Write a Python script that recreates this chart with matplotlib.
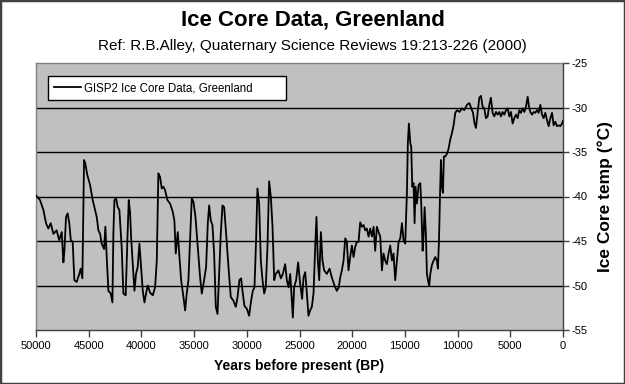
import matplotlib
matplotlib.use("Agg")
import matplotlib.pyplot as plt
from matplotlib.patches import Rectangle

plt.rcParams['font.family'] = ['Liberation Sans', 'DejaVu Sans']

title = "Ice Core Data, Greenland"
subtitle = "Ref: R.B.Alley, Quaternary Science Reviews 19:213-226 (2000)"
series_name = "GISP2 Ice Core Data, Greenland"
x_label = "Years before present (BP)"
y_label = "Ice Core temp (\u00b0C)"
x_ticks = [50000, 45000, 40000, 35000, 30000, 25000, 20000, 15000, 10000, 5000, 0]
y_ticks = [-55, -50, -45, -40, -35, -30, -25]

years = [
    50000, 49620, 49300, 49050, 48830, 48600, 48350, 48040, 47800, 47560,
    47400, 47300, 47150, 47000, 46840, 46700, 46520, 46360, 46140, 45890,
    45760, 45600, 45440, 45320, 45130, 44870, 44620, 44400, 44240, 44080,
    43920, 43770, 43540, 43420, 43290, 43130, 42910, 42750, 42660, 42560,
    42400, 42250, 42090, 41870, 41710, 41490, 41330, 41200, 41080, 40980,
    40820, 40660, 40510, 40350, 40190, 40030, 39870, 39710, 39560, 39400,
    39180, 38920, 38700, 38540, 38390, 38230, 38070, 37910, 37750, 37530,
    37280, 37030, 36870, 36740, 36550, 36390, 36230, 36010, 35850, 35700,
    35540, 35380, 35220, 35060, 34870, 34650, 34430, 34270, 34050, 33860,
    33700, 33570, 33420, 33260, 33100, 32940, 32780, 32630, 32470, 32310,
    32150, 31960, 31740, 31520, 31270, 31040, 30880, 30700, 30540, 30380,
    30220, 30000, 29780, 29590, 29430, 29270, 29110, 28990, 28830, 28670,
    28510, 28350, 28200, 28040, 27880, 27720, 27560, 27400, 27250, 27000,
    26770, 26580, 26360, 26200, 26040, 25880, 25630, 25510, 25320, 25130,
    24940, 24750, 24620, 24460, 24300, 24150, 23990, 23830, 23670, 23510,
    23390, 23260, 23130, 22970, 22820, 22660, 22410, 22150, 21930, 21680,
    21460, 21270, 21140, 20980, 20820, 20660, 20510, 20350, 20190, 20030,
    19870, 19720, 19560, 19400, 19240, 19080, 18920, 18770, 18610, 18450,
    18290, 18130, 17970, 17820, 17660, 17500, 17340, 17180, 17030, 16870,
    16710, 16550, 16390, 16230, 16080, 15920, 15760, 15600, 15440, 15280,
    15130, 14970, 14810, 14720, 14620, 14490, 14400, 14300, 14180, 14080,
    13990, 13860, 13700, 13540, 13450, 13320, 13230, 13130, 13010, 12910,
    12780, 12690, 12590, 12440, 12280, 12120, 11960, 11870, 11770, 11680,
    11580, 11490, 11390, 11300, 11170, 11010, 10850, 10700, 10540, 10380,
    10220, 10060, 9810, 9590, 9370, 9110, 8890, 8700, 8540, 8390,
    8260, 8100, 7940, 7780, 7630, 7470, 7310, 7150, 6990, 6840,
    6680, 6520, 6360, 6200, 6040, 5890, 5730, 5570, 5410, 5250,
    5090, 4940, 4780, 4620, 4460, 4300, 4150, 3990, 3830, 3670,
    3510, 3350, 3230, 3100, 2940, 2780, 2630, 2470, 2310, 2150,
    1990, 1840, 1680, 1520, 1360, 1200, 1040, 890, 730, 570,
    410, 250, 90, 0,
]
temps = [
    -39.9, -40.4, -41.5, -43.0, -43.6, -43.0, -44.2, -43.8, -44.9, -44.0,
    -47.4, -46.0, -42.3, -41.9, -43.0, -44.9, -45.1, -49.4, -49.6, -48.7,
    -48.1, -49.2, -35.9, -36.3, -37.6, -38.7, -40.4, -41.5, -42.3, -43.8,
    -44.2, -45.3, -45.9, -43.4, -46.8, -50.6, -50.9, -51.9, -44.2, -40.4,
    -40.2, -41.2, -41.5, -45.7, -50.9, -51.1, -44.9, -40.4, -41.7, -44.5,
    -47.6, -50.6, -48.7, -47.9, -45.3, -47.9, -50.6, -51.9, -50.9, -50.0,
    -50.8, -51.1, -50.2, -47.2, -37.4, -37.8, -39.1, -38.9, -39.3, -40.4,
    -40.8, -41.7, -42.7, -46.4, -44.0, -46.8, -49.4, -51.3, -52.8, -50.9,
    -49.4, -44.9, -40.2, -40.6, -42.3, -45.7, -49.1, -50.9, -49.4, -47.9,
    -43.0, -41.0, -42.7, -43.2, -46.4, -52.4, -53.2, -48.7, -44.2, -41.0,
    -41.2, -44.2, -47.9, -51.3, -51.7, -52.4, -51.3, -49.4, -49.2, -50.9,
    -52.3, -52.6, -53.4, -51.7, -50.6, -50.2, -44.5, -39.1, -40.8, -47.2,
    -49.4, -50.9, -50.2, -45.7, -38.3, -40.0, -43.4, -49.4, -48.7, -48.3,
    -49.2, -48.7, -47.6, -49.4, -50.2, -48.7, -53.6, -50.2, -49.4, -47.4,
    -49.8, -51.5, -49.1, -48.5, -50.9, -53.4, -52.8, -52.4, -50.9, -45.7,
    -42.3, -47.2, -49.4, -44.0, -47.2, -48.3, -48.7, -48.1, -49.1, -50.0,
    -50.6, -50.2, -49.1, -48.3, -47.2, -44.7, -45.1, -48.3, -46.8, -45.5,
    -46.8, -45.7, -45.1, -45.1, -42.9, -43.4, -43.2, -43.8, -43.6, -44.5,
    -43.6, -44.5, -43.4, -46.1, -43.4, -44.0, -44.5, -48.3, -46.4, -47.2,
    -47.6, -46.4, -45.5, -47.2, -46.4, -49.4, -47.2, -45.1, -44.7, -43.0,
    -44.9, -45.3, -39.6, -34.0, -31.8, -34.0, -34.4, -38.9, -38.5, -43.0,
    -38.9, -40.8, -38.7, -38.5, -40.8, -46.1, -44.5, -41.2, -44.2, -48.7,
    -49.6, -50.0, -48.7, -47.7, -47.2, -46.8, -47.2, -48.1, -45.1, -40.4,
    -35.9, -38.9, -39.6, -35.5, -35.5, -35.2, -34.6, -33.6, -32.9, -32.0,
    -30.6, -30.3, -30.5, -30.1, -30.3, -29.7, -29.5, -30.1, -30.6, -31.8,
    -32.3, -30.6, -28.9, -28.7, -29.9, -30.1, -31.2, -31.0, -29.7, -28.9,
    -30.6, -31.0, -30.5, -30.8, -30.5, -31.0, -30.5, -30.8, -30.3, -30.1,
    -31.0, -30.5, -31.8, -31.2, -30.8, -31.2, -30.3, -30.6, -30.1, -30.5,
    -29.9, -28.8, -29.9, -30.5, -30.8, -30.5, -30.6, -30.3, -30.6, -29.7,
    -30.8, -31.2, -30.6, -31.4, -32.1, -31.2, -30.6, -32.0, -31.6, -32.1,
    -32.0, -32.1, -31.8, -31.5,
]

fig = plt.figure(figsize=(6.25, 3.84), dpi=100)
fig.patch.set_facecolor('white')
ax = fig.add_axes([36 / 625, 1 - 330 / 384, 527 / 625, 267 / 384])
ax.set_facecolor('#C0C0C0')

ax.plot(years, temps, color='black', lw=1.3, label=series_name, zorder=3)

ax.set_xlim(50000, 0)
ax.set_ylim(-55, -25)
ax.set_xticks(x_ticks)
ax.set_xticklabels([str(t) for t in x_ticks], fontsize=8)
ax.set_yticks(y_ticks)
ax.set_yticklabels([str(t) for t in y_ticks], fontsize=8)
ax.yaxis.tick_right()
ax.yaxis.set_label_position('right')
ax.tick_params(axis='x', direction='out', length=5, width=1, color='#404040', pad=3)
ax.tick_params(axis='y', direction='out', length=4, width=1, color='#404040', pad=2)

for v in y_ticks[1:-1]:
    ax.axhline(v, color='black', lw=1, zorder=1)

for s in ['top', 'left']:
    ax.spines[s].set_color('#808080')
    ax.spines[s].set_linewidth(1)
for s in ['bottom', 'right']:
    ax.spines[s].set_color('#404040')
    ax.spines[s].set_linewidth(1)

ax.set_xlabel(x_label, fontsize=10, fontweight='bold', labelpad=6)
ax.set_ylabel(y_label, fontsize=12.5, fontweight='bold', labelpad=7)

leg = ax.legend(loc='lower left', bbox_to_anchor=(0.023, 0.86, 0.452, 0.094),
                mode='expand', fontsize=8.3, frameon=True, fancybox=False,
                borderaxespad=0, borderpad=0.55, handlelength=2.3, handletextpad=0.3)
leg.get_frame().set_edgecolor('black')
leg.get_frame().set_linewidth(1)
leg.get_frame().set_facecolor('white')
leg.get_frame().set_alpha(1)

fig.text(0.5, 1 - 20 / 384, title, ha='center', va='center', fontsize=16, fontweight='bold')
fig.text(0.5, 1 - 46 / 384, subtitle, ha='center', va='center', fontsize=11)

fig.patches.append(Rectangle((0, 0), 1, 1, transform=fig.transFigure, fill=False,
                             edgecolor='#404040', lw=2.5, zorder=10))

fig.savefig('out.png', dpi=100)
